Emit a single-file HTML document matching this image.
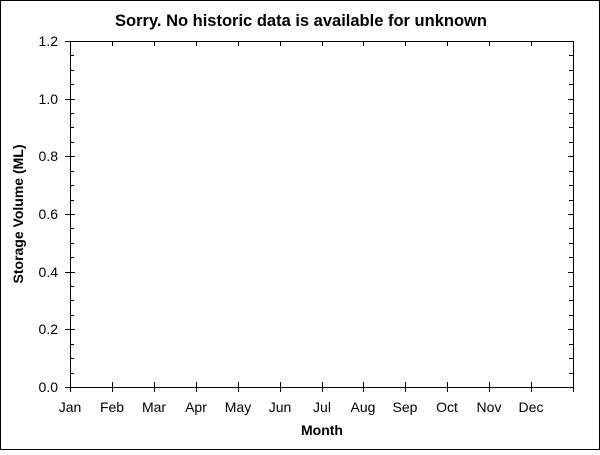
<!DOCTYPE html>
<html><head><style>
body{margin:0;width:600px;height:450px;overflow:hidden;background:#fff}
text{font-family:"Liberation Sans",Arial,sans-serif;fill:#000}
</style></head><body>
<svg width="600" height="450" xmlns="http://www.w3.org/2000/svg" shape-rendering="crispEdges">
<rect x="0.5" y="0.5" width="599" height="449" fill="#fff" stroke="#000"/>
<text x="301" y="26" font-size="16.5" font-weight="bold" text-anchor="middle">Sorry. No historic data is available for unknown</text>
<g stroke="#000" stroke-width="1" fill="none">
<path d="M70.5,41V387.5H573.5V41.5H70"/>
<path d="M65,387.5H75M65,329.5H75M65,272.5H75M65,214.5H75M65,156.5H75M65,99.5H75M65,41.5H75"/>
<path d="M573,329.5H568M573,272.5H568M573,214.5H568M573,156.5H568M573,99.5H568"/>
<path d="M70,373.5H74M70,358.5H74M70,344.5H74M70,315.5H74M70,300.5H74M70,286.5H74M70,257.5H74M70,243.5H74M70,228.5H74M70,200.5H74M70,185.5H74M70,171.5H74M70,142.5H74M70,127.5H74M70,113.5H74M70,84.5H74M70,70.5H74M70,55.5H74"/>
<path d="M573,373.5H569M573,358.5H569M573,344.5H569M573,315.5H569M573,300.5H569M573,286.5H569M573,257.5H569M573,243.5H569M573,228.5H569M573,200.5H569M573,185.5H569M573,171.5H569M573,142.5H569M573,127.5H569M573,113.5H569M573,84.5H569M573,70.5H569M573,55.5H569"/>
<path d="M70.5,382V392M112.5,382V392M154.5,382V392M196.5,382V392M238.5,382V392M280.5,382V392M322.5,382V392M363.5,382V392M405.5,382V392M447.5,382V392M489.5,382V392M531.5,382V392M573.5,382V392"/>
<path d="M112.5,41V46M154.5,41V46M196.5,41V46M238.5,41V46M280.5,41V46M322.5,41V46M363.5,41V46M405.5,41V46M447.5,41V46M489.5,41V46M531.5,41V46"/>
</g>
<g font-size="14" text-anchor="end">
<text x="58" y="392">0.0</text>
<text x="58" y="334">0.2</text>
<text x="58" y="277">0.4</text>
<text x="58" y="219">0.6</text>
<text x="58" y="161">0.8</text>
<text x="58" y="104">1.0</text>
<text x="58" y="46">1.2</text>
</g>
<g font-size="14" text-anchor="middle">
<text x="70" y="412">Jan</text><text x="112" y="412">Feb</text><text x="154" y="412">Mar</text><text x="196" y="412">Apr</text><text x="238" y="412">May</text><text x="280" y="412">Jun</text><text x="322" y="412">Jul</text><text x="363" y="412">Aug</text><text x="405" y="412">Sep</text><text x="447" y="412">Oct</text><text x="489" y="412">Nov</text><text x="531" y="412">Dec</text>
</g>
<text x="322" y="435" font-size="14" font-weight="bold" text-anchor="middle">Month</text>
<text transform="translate(23,214) rotate(-90)" font-size="14" font-weight="bold" text-anchor="middle">Storage Volume (ML)</text>
</svg>
</body></html>
